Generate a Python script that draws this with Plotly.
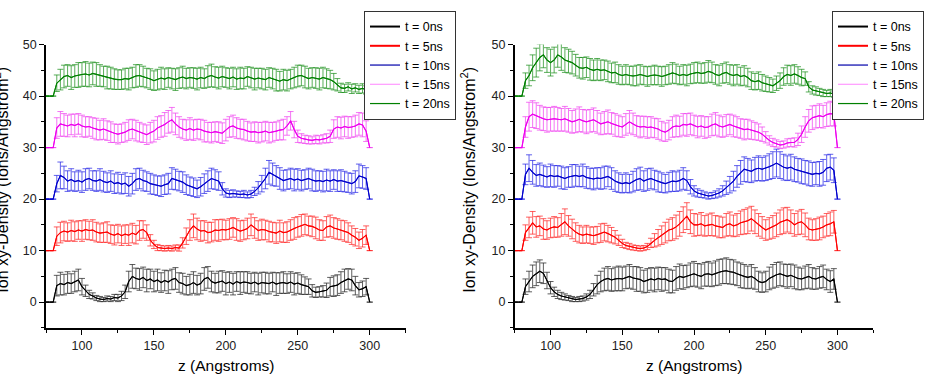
import plotly.graph_objects as go

# z positions (Angstroms): 75, then 80 .. 300 in 2.5 steps
z = [75.0] + [80 + 2.5 * i for i in range(89)]

series_names = ["t = 0ns", "t = 5ns", "t = 10ns", "t = 15ns", "t = 20ns"]
line_colors = ["#000000", "#ff0000", "#0000cc", "#ee00ee", "#008000"]
err_colors = ["rgba(40,40,40,0.75)", "rgba(255,30,30,0.7)", "rgba(30,30,230,0.7)",
              "rgba(240,60,240,0.7)", "rgba(20,140,20,0.7)"]
legend_line_widths = [2, 2, 1.2, 1.2, 1.2]
legend_line_colors = ["#000000", "#ff0000", "#0000aa", "#ff99ff", "#008000"]

# ---------------- Left panel ----------------
L0 = [0, 0, 3.2, 3.6, 3.4, 3.8, 3.6, 4.0, 4.3, 3.0,
      2.2, 1.5, 1.2, 0.8, 0.6, 0.5, 0.7, 0.6, 0.9, 0.8,
      1.2, 2.0, 4.0, 5.0, 4.6, 4.4, 4.8, 4.2, 4.5, 4.0,
      4.3, 3.8, 4.2, 3.9, 4.4, 4.6, 3.8, 3.6, 3.2, 3.4,
      3.8, 3.3, 3.6, 4.5, 4.8, 4.0, 3.7, 3.9, 4.1, 3.6,
      3.9, 3.5, 4.0, 3.7, 3.9, 3.8, 3.6, 3.9, 3.5, 3.8,
      3.7, 3.6, 3.9, 3.5, 3.7, 3.8, 3.6, 3.9, 3.5, 3.7,
      3.4, 3.2, 3.0, 2.2, 1.9, 2.0, 2.1, 2.3, 3.0, 3.1,
      3.3, 3.8, 4.2, 4.5, 4.3, 3.2, 2.4, 2.6, 3.0, 0]
L1 = [10, 10, 12.8, 13.5, 13.8, 13.6, 13.9, 13.7, 14.0, 13.8,
      14.1, 13.9, 14.0, 13.6, 13.4, 13.5, 13.6, 13.2, 13.0, 13.3,
      12.9, 13.2, 13.0, 13.4, 13.1, 13.9, 14.1, 13.5, 12.0, 11.2,
      10.6, 10.5, 10.4, 10.5, 10.4, 10.6, 10.5, 11.5, 12.8, 14.0,
      14.8, 14.2, 13.8, 13.9, 13.5, 13.6, 14.0, 13.9, 14.1, 14.0,
      14.2, 14.5, 14.1, 13.8, 14.0, 14.3, 15.0, 14.4, 13.9, 14.1,
      14.0, 13.7, 13.6, 13.4, 13.8, 13.5, 13.6, 14.0, 14.3, 14.6,
      14.9, 15.1, 14.8, 14.7, 14.4, 14.0, 13.9, 14.6, 14.8, 14.4,
      14.2, 14.0, 13.8, 13.5, 13.0, 12.6, 12.0, 12.4, 13.0, 10]
L2 = [20, 20, 23.0, 24.6, 24.2, 23.5, 23.8, 23.4, 23.6, 23.3,
      23.8, 24.0, 23.6, 23.5, 23.8, 23.4, 23.2, 23.5, 23.0, 23.2,
      22.9, 23.1, 22.5, 23.0, 23.8, 24.0, 23.6, 23.4, 23.0, 22.8,
      22.6, 22.5, 22.8, 23.0, 24.0, 23.8, 23.5, 23.3, 22.8, 22.5,
      22.3, 22.0, 22.4, 23.0, 23.5, 24.0, 23.8, 23.5, 22.0, 21.2,
      21.0, 21.1, 21.0, 20.9, 21.0, 20.8, 21.0, 21.5, 22.2, 23.0,
      24.0, 25.2, 24.8, 24.5, 24.0, 23.6, 23.8, 24.0, 23.7, 23.9,
      23.6, 23.8, 24.0, 23.7, 23.5, 23.6, 23.4, 23.7, 23.5, 23.8,
      23.5, 23.6, 23.4, 23.2, 23.0, 23.4, 24.5, 24.3, 24.0, 20]
L3 = [30, 30, 33.8, 34.6, 34.4, 34.2, 34.5, 34.3, 34.6, 34.2,
      34.0, 34.1, 33.8, 33.6, 33.4, 33.6, 33.3, 33.0, 32.8, 32.6,
      32.8, 33.0, 33.4, 33.6, 33.3, 33.0, 32.8, 32.5, 32.9, 33.2,
      33.8, 34.1, 34.5, 35.0, 35.4, 34.6, 34.0, 33.6, 33.4, 33.7,
      33.4, 33.6, 33.5, 33.2, 33.0, 32.9, 33.1, 33.0, 32.8, 33.4,
      34.0, 34.2, 33.8, 33.6, 33.5, 33.2, 33.0, 33.1, 32.9, 33.0,
      33.2, 32.9, 33.0, 33.2, 33.4, 33.5, 34.2, 35.2, 33.5, 32.2,
      31.8, 31.6, 31.5, 31.4, 31.6, 31.5, 31.7, 31.8, 32.2, 33.6,
      34.0, 33.8, 34.1, 33.9, 34.0, 34.2, 34.6, 34.4, 33.2, 30]
L4 = [40, 40, 42.5, 43.2, 43.8, 44.0, 43.6, 43.9, 44.1, 44.2,
      44.3, 44.1, 44.4, 44.2, 44.0, 43.8, 43.6, 43.5, 43.3, 43.2,
      43.2, 43.4, 43.3, 43.6, 43.9, 44.0, 43.8, 43.5, 43.3, 43.0,
      43.2, 43.5, 43.3, 43.6, 43.4, 43.2, 43.5, 43.7, 43.4, 43.6,
      43.5, 43.3, 43.6, 43.4, 43.8, 44.0, 43.7, 43.5, 43.8, 43.6,
      43.4, 43.7, 43.3, 43.5, 43.4, 43.8, 43.6, 43.3, 43.5, 43.4,
      43.2, 43.6, 43.4, 43.1, 42.9, 43.2, 43.0, 43.3, 43.6, 43.9,
      44.0, 43.7, 43.4, 43.6, 43.5, 43.3, 43.6, 43.4, 43.2, 42.8,
      42.2, 41.6, 41.5, 41.8, 41.4, 41.6, 41.3, 41.5, 41.2, 40.8]

EL0 = [0, 0, 2.0, 2.2, 2.0, 2.1, 1.9, 2.0, 2.1, 1.6,
       1.1, 0.8, 0.6, 0.5, 0.5, 0.4, 0.5, 0.5, 0.6, 0.7,
       0.9, 1.3, 2.0, 2.3, 2.0, 2.1, 2.0, 2.2, 1.9, 2.0,
       2.1, 1.9, 2.0, 2.2, 2.0, 2.1, 1.9, 2.0, 1.8, 2.0,
       2.1, 1.9, 2.0, 2.2, 2.1, 2.0, 1.9, 2.1, 2.0, 2.2,
       2.0, 2.1, 1.9, 2.2, 2.0, 2.1, 2.0, 1.9, 2.1, 2.0,
       2.1, 2.0, 1.9, 2.2, 2.0, 2.1, 1.9, 2.0, 2.1, 2.0,
       1.9, 1.7, 1.5, 1.2, 1.0, 1.0, 1.1, 1.4, 1.8, 2.0,
       2.0, 2.1, 2.2, 2.0, 2.1, 1.8, 1.4, 1.5, 1.6, 0]
EL1 = [0, 0, 1.8, 2.0, 1.9, 1.8, 2.0, 1.9, 1.8, 2.0,
       1.9, 1.8, 2.0, 1.9, 1.8, 1.9, 2.0, 1.8, 1.9, 1.8,
       1.9, 1.8, 2.0, 1.9, 1.8, 1.9, 1.7, 1.5, 1.1, 0.8,
       0.6, 0.5, 0.5, 0.5, 0.5, 0.5, 0.6, 1.0, 1.6, 2.0,
       2.3, 2.1, 2.0, 1.9, 2.0, 1.9, 2.0, 2.1, 2.0, 1.9,
       2.0, 1.9, 2.1, 2.0, 1.9, 2.0, 2.1, 2.0, 1.9, 2.0,
       1.9, 2.0, 1.9, 2.0, 2.1, 1.9, 2.0, 2.0, 2.1, 2.0,
       2.1, 2.0, 1.9, 2.0, 2.1, 2.0, 1.9, 2.0, 2.1, 2.0,
       2.0, 1.9, 2.0, 1.9, 1.8, 1.7, 1.6, 1.7, 1.8, 0]
EL2 = [0, 0, 1.6, 2.6, 2.2, 2.0, 2.1, 1.9, 2.0, 2.0,
       2.1, 2.0, 1.9, 2.0, 2.1, 2.0, 1.9, 2.0, 1.9, 2.0,
       1.9, 2.0, 1.9, 2.0, 2.1, 2.0, 2.0, 1.9, 2.0, 1.9,
       1.9, 2.0, 1.9, 2.0, 2.1, 2.0, 1.9, 2.0, 1.9, 1.8,
       1.8, 1.7, 1.8, 1.9, 2.0, 2.0, 1.9, 1.8, 1.2, 0.8,
       0.7, 0.7, 0.6, 0.6, 0.7, 0.6, 0.7, 0.8, 1.2, 1.6,
       2.0, 2.3, 2.2, 2.0, 2.1, 2.0, 1.9, 2.0, 2.1, 2.0,
       2.0, 1.9, 2.0, 2.1, 2.0, 1.9, 2.0, 2.1, 2.0, 1.9,
       2.0, 2.1, 2.0, 1.9, 2.0, 2.1, 2.3, 2.2, 2.1, 0]
EL3 = [0, 0, 2.0, 2.4, 2.2, 2.1, 2.0, 2.2, 2.0, 2.1,
       2.0, 1.9, 2.0, 2.1, 1.9, 2.0, 1.9, 2.0, 1.8, 1.9,
       1.8, 1.9, 2.0, 1.9, 2.0, 1.9, 1.8, 1.9, 2.0, 2.1,
       2.2, 2.1, 2.3, 2.2, 2.4, 2.1, 2.0, 1.9, 2.0, 2.1,
       2.0, 1.9, 2.0, 2.1, 1.9, 2.0, 1.9, 2.0, 2.0, 2.1,
       2.0, 2.1, 2.0, 1.9, 2.0, 1.9, 1.8, 1.9, 2.0, 1.9,
       1.9, 2.0, 1.9, 1.8, 1.9, 2.0, 1.8, 1.8, 1.6, 1.2,
       0.9, 0.8, 0.8, 0.7, 0.8, 0.8, 0.8, 0.9, 1.2, 1.8,
       2.0, 2.1, 2.0, 2.1, 2.0, 2.1, 2.2, 2.3, 2.0, 0]
EL4 = [0, 0, 1.6, 2.0, 2.2, 2.1, 2.3, 2.2, 2.4, 2.3,
       2.4, 2.3, 2.2, 2.3, 2.1, 2.0, 2.2, 2.1, 2.0, 1.9,
       1.9, 2.0, 2.1, 2.0, 2.2, 2.1, 2.0, 1.9, 2.0, 1.9,
       2.0, 2.1, 2.0, 1.9, 2.0, 2.1, 2.0, 2.1, 2.0, 1.9,
       2.0, 2.1, 2.0, 1.9, 2.1, 2.2, 2.0, 2.1, 2.0, 1.9,
       2.0, 1.9, 2.0, 2.1, 2.0, 1.9, 2.0, 2.1, 1.9, 2.0,
       2.0, 1.9, 2.0, 2.1, 1.9, 2.0, 2.0, 1.9, 2.0, 2.1,
       2.0, 2.1, 2.0, 1.9, 2.0, 2.1, 2.0, 1.9, 1.8, 1.6,
       1.2, 0.9, 0.8, 0.8, 0.9, 0.8, 0.8, 0.9, 0.8, 0]

# ---------------- Right panel ----------------
R0 = [0, 0, 3.0, 4.0, 5.0, 5.5, 6.0, 5.6, 4.2, 2.8,
      2.0, 1.5, 1.2, 1.0, 0.8, 0.6, 0.5, 0.6, 0.7, 1.0,
      1.5, 2.4, 3.4, 4.0, 4.4, 4.6, 4.3, 4.5, 4.6, 4.5,
      4.8, 5.0, 4.7, 4.5, 4.4, 4.0, 4.2, 4.5, 4.3, 4.6,
      4.4, 4.5, 4.1, 4.0, 4.6, 5.0, 4.8, 5.0, 5.3, 5.5,
      5.2, 5.0, 5.4, 5.5, 5.3, 5.6, 5.8, 6.0, 6.1, 5.9,
      5.8, 5.5, 5.2, 5.0, 4.8, 5.0, 4.6, 4.0, 3.8, 4.0,
      4.6, 5.0, 5.3, 5.5, 5.2, 5.0, 5.2, 4.9, 4.6, 4.5,
      4.8, 5.0, 4.6, 4.5, 4.8, 5.0, 4.4, 4.0, 4.5, 0]
R1 = [10, 10, 13.5, 14.5, 15.4, 14.6, 14.8, 14.2, 14.0, 14.4,
      14.6, 14.5, 15.0, 15.6, 14.8, 14.2, 13.6, 13.2, 13.0, 13.2,
      13.0, 12.9, 13.1, 13.4, 13.6, 13.3, 13.0, 12.6, 12.0, 11.4,
      11.0, 10.8, 10.6, 10.5, 10.4, 10.5, 10.8, 11.5, 12.0, 12.5,
      13.0, 13.5, 14.0, 14.2, 14.6, 15.2, 16.0, 16.7, 15.6, 15.0,
      15.0, 15.2, 14.8, 15.0, 15.1, 14.8, 14.6, 14.5, 15.0, 15.2,
      14.8, 15.0, 15.4, 15.6, 15.8, 16.2, 15.6, 15.0, 14.5, 14.0,
      14.3, 14.6, 15.0, 15.5, 15.8, 16.0, 15.6, 15.0, 15.4, 15.6,
      15.0, 14.2, 14.0, 14.1, 14.3, 14.6, 15.0, 15.2, 15.6, 10]
R2 = [20, 20, 24.8, 26.0, 25.2, 24.6, 24.8, 24.5, 24.3, 24.6,
      24.4, 24.5, 24.2, 24.0, 24.3, 24.5, 24.6, 24.4, 24.6, 24.2,
      24.0, 23.9, 24.1, 24.0, 24.2, 24.4, 24.0, 23.5, 23.2, 23.0,
      23.2, 23.0, 23.4, 23.8, 24.0, 23.5, 23.8, 24.0, 23.7, 23.4,
      23.2, 23.0, 23.3, 23.5, 23.4, 23.6, 24.0, 23.6, 22.4, 21.6,
      21.2, 21.0, 20.8, 20.6, 20.7, 20.9, 21.2, 21.6, 22.2, 22.8,
      23.5, 24.4, 25.2, 25.8, 25.6, 25.4, 25.8, 26.0, 25.8, 26.0,
      26.3, 26.6, 27.0, 26.6, 26.2, 26.0, 26.2, 25.8, 25.6, 25.4,
      25.2, 25.0, 24.8, 25.0, 24.9, 25.2, 26.0, 26.2, 25.6, 20]
R3 = [30, 30, 34.0, 36.0, 36.5, 36.2, 35.8, 35.6, 35.4, 35.5,
      35.6, 35.5, 35.4, 35.6, 35.3, 35.0, 35.2, 35.5, 35.2, 35.0,
      35.2, 35.4, 35.0, 34.6, 34.8, 35.0, 34.7, 34.4, 34.2, 34.0,
      34.5, 35.0, 34.6, 34.2, 34.0, 34.1, 33.9, 34.0, 33.8, 33.6,
      33.2, 33.0, 33.4, 34.0, 34.2, 34.1, 34.5, 34.4, 34.6, 34.3,
      34.0, 34.2, 33.9, 34.0, 34.4, 34.6, 34.2, 34.0, 34.3, 34.5,
      34.2, 34.0, 33.7, 33.5, 33.6, 33.4, 33.2, 33.0, 32.6, 32.0,
      31.4, 31.0, 30.8, 30.5, 30.6, 30.9, 31.0, 31.0, 31.6, 32.6,
      34.0, 35.2, 35.8, 36.0, 36.2, 36.0, 36.4, 36.6, 36.5, 30]
R4 = [40, 40, 43.0, 44.0, 45.5, 46.5, 47.5, 48.0, 47.0, 46.5,
      47.0, 48.0, 47.6, 47.0, 46.8, 46.5, 46.0, 45.5, 45.4, 45.6,
      45.2, 45.0, 45.2, 45.0, 45.1, 44.8, 44.5, 44.6, 44.2, 44.0,
      44.2, 44.0, 43.9, 44.0, 44.2, 44.0, 43.8, 44.0, 44.1, 44.0,
      43.8, 44.0, 44.2, 44.5, 44.3, 44.0, 44.2, 44.0, 44.3, 44.5,
      44.6, 44.4, 44.5, 44.8, 44.6, 44.2, 44.0, 44.4, 44.6, 44.2,
      44.0, 44.2, 43.8, 44.0, 43.6, 43.0, 42.8, 43.0, 42.6, 42.4,
      42.2, 42.0, 42.5, 43.0, 43.8, 44.2, 44.0, 44.3, 44.0, 43.6,
      43.4, 41.8, 41.2, 41.0, 40.8, 40.6, 40.5, 40.6, 40.4, 40]

ER0 = [0, 0, 1.5, 2.0, 2.2, 2.3, 2.2, 2.0, 1.6, 1.2,
       0.9, 0.8, 0.7, 0.6, 0.5, 0.5, 0.4, 0.5, 0.5, 0.6,
       0.8, 1.2, 1.8, 2.0, 2.2, 2.3, 2.2, 2.3, 2.4, 2.3,
       2.2, 2.3, 2.2, 2.4, 2.3, 2.2, 2.3, 2.2, 2.3, 2.2,
       2.3, 2.2, 2.3, 2.2, 2.3, 2.4, 2.3, 2.2, 2.3, 2.4,
       2.3, 2.4, 2.3, 2.4, 2.3, 2.4, 2.5, 2.4, 2.5, 2.4,
       2.4, 2.3, 2.4, 2.3, 2.2, 2.3, 2.1, 2.0, 1.9, 2.0,
       2.2, 2.3, 2.4, 2.3, 2.2, 2.3, 2.2, 2.3, 2.2, 2.1,
       2.2, 2.3, 2.1, 2.0, 2.1, 2.2, 2.0, 2.1, 2.0, 0]
ER1 = [0, 0, 1.5, 2.0, 2.2, 2.0, 1.9, 2.0, 1.8, 1.9,
       2.0, 1.9, 2.2, 2.5, 2.0, 1.9, 1.8, 1.7, 1.6, 1.7,
       1.6, 1.7, 1.6, 1.8, 1.7, 1.6, 1.5, 1.3, 1.0, 0.8,
       0.6, 0.6, 0.5, 0.5, 0.5, 0.5, 0.6, 0.9, 1.3, 1.6,
       1.8, 2.0, 2.1, 2.2, 2.3, 2.4, 2.5, 2.6, 2.3, 2.2,
       2.1, 2.2, 2.0, 2.1, 2.2, 2.0, 2.1, 2.0, 2.2, 2.3,
       2.1, 2.2, 2.3, 2.4, 2.5, 2.4, 2.3, 2.2, 2.1, 2.0,
       2.1, 2.2, 2.3, 2.4, 2.5, 2.4, 2.3, 2.2, 2.3, 2.4,
       2.3, 2.1, 2.0, 2.1, 2.2, 2.1, 2.2, 2.3, 2.2, 0]
ER2 = [0, 0, 2.0, 2.6, 2.3, 2.1, 2.2, 2.1, 2.0, 2.2,
       2.1, 2.0, 2.2, 2.1, 2.0, 2.2, 2.1, 2.0, 2.2, 2.1,
       2.0, 2.1, 2.0, 2.1, 2.2, 2.0, 2.1, 2.0, 1.9, 1.8,
       1.9, 1.8, 2.0, 2.1, 2.2, 2.0, 2.1, 2.0, 1.9, 2.0,
       1.9, 1.8, 1.9, 2.0, 1.9, 2.0, 2.1, 1.9, 1.4, 1.0,
       0.8, 0.7, 0.6, 0.6, 0.6, 0.7, 0.8, 1.0, 1.3, 1.6,
       1.9, 2.1, 2.3, 2.4, 2.3, 2.2, 2.3, 2.4, 2.3, 2.4,
       2.5, 2.6, 2.7, 2.6, 2.5, 2.4, 2.5, 2.4, 2.3, 2.4,
       2.3, 2.4, 2.3, 2.2, 2.4, 2.5, 2.6, 2.5, 2.4, 0]
ER3 = [0, 0, 2.0, 2.8, 2.6, 2.5, 2.4, 2.3, 2.4, 2.3,
       2.4, 2.3, 2.2, 2.4, 2.3, 2.2, 2.3, 2.4, 2.2, 2.3,
       2.2, 2.3, 2.2, 2.1, 2.2, 2.3, 2.1, 2.2, 2.1, 2.0,
       2.1, 2.2, 2.1, 2.0, 2.1, 2.0, 2.1, 2.0, 1.9, 2.0,
       1.9, 1.8, 1.9, 2.0, 2.1, 2.0, 2.1, 2.2, 2.1, 2.0,
       2.1, 2.0, 2.1, 2.0, 2.1, 2.2, 2.1, 2.0, 2.1, 2.0,
       2.1, 2.0, 1.9, 2.0, 1.9, 1.8, 1.7, 1.6, 1.4, 1.1,
       0.9, 0.8, 0.7, 0.7, 0.7, 0.8, 0.8, 0.9, 1.2, 1.6,
       2.0, 2.2, 2.3, 2.2, 2.3, 2.2, 2.3, 2.4, 2.3, 0]
ER4 = [0, 0, 1.5, 2.0, 2.5, 2.8, 2.6, 2.5, 2.4, 2.6,
       2.5, 2.4, 2.6, 2.4, 2.3, 2.2, 2.1, 2.0, 2.1, 2.0,
       2.1, 2.0, 2.1, 2.0, 1.9, 2.0, 1.9, 2.0, 1.9, 1.8,
       1.9, 1.8, 1.9, 2.0, 1.9, 1.8, 1.9, 1.8, 1.9, 1.8,
       1.9, 1.8, 1.9, 2.0, 1.9, 1.8, 1.9, 2.0, 1.9, 2.0,
       2.0, 1.9, 2.0, 2.1, 2.0, 1.9, 2.0, 1.9, 2.0, 1.9,
       2.0, 1.9, 1.8, 1.9, 1.8, 1.7, 1.6, 1.7, 1.6, 1.5,
       1.4, 1.3, 1.4, 1.5, 1.7, 1.8, 1.9, 1.8, 1.7, 1.6,
       1.3, 1.0, 0.8, 0.8, 0.7, 0.7, 0.6, 0.7, 0.6, 0]

x_ticks = [100, 150, 200, 250, 300]
y_ticks = [0, 10, 20, 30, 40, 50]

left_vals = [L0, L1, L2, L3, L4]
left_errs = [EL0, EL1, EL2, EL3, EL4]
right_vals = [R0, R1, R2, R3, R4]
right_errs = [ER0, ER1, ER2, ER3, ER4]

for arr in left_vals + left_errs + right_vals + right_errs:
    assert len(arr) == len(z), len(arr)

fig = go.Figure()

panels = [("x", "y", "legend", left_vals, left_errs),
          ("x2", "y2", "legend2", right_vals, right_errs)]
for xa, ya, lg, vals, errs in panels:
    for i in range(5):
        # error bars (no legend entry)
        fig.add_trace(go.Scatter(
            x=z, y=vals[i], mode="lines", name=series_names[i],
            xaxis=xa, yaxis=ya, showlegend=False, hoverinfo="skip",
            line=dict(color=line_colors[i], width=1),
            error_y=dict(type="data", array=errs[i], visible=True,
                         color=err_colors[i], thickness=1, width=3),
        ))
    for i in range(5):
        # mean line on top
        fig.add_trace(go.Scatter(
            x=z, y=vals[i], mode="lines", name=series_names[i],
            xaxis=xa, yaxis=ya, legend=lg, showlegend=False,
            line=dict(color=line_colors[i], width=1.1),
        ))
    for i in range(5):
        # legend key (styled as in the reference key box)
        fig.add_trace(go.Scatter(
            x=[None], y=[None], mode="lines", name=series_names[i],
            xaxis=xa, yaxis=ya, legend=lg, showlegend=True,
            line=dict(color=legend_line_colors[i], width=legend_line_widths[i]),
        ))

FONT = "Liberation Sans, Arial, sans-serif"

axis_common = dict(
    showline=True, linecolor="black", linewidth=1.5, showgrid=False, zeroline=False,
    ticks="outside", ticklen=5, tickwidth=1, tickcolor="black",
    tickfont=dict(family=FONT, size=12.5, color="#222"),
    mirror=False,
)

xdom1 = [46 / 932, 405.7 / 932]
xdom2 = [514.7 / 932, 873.3 / 932]
ydom = [(374 - 327) / 374, (374 - 38.3) / 374]

for key, dom, anchor in [("xaxis", xdom1, "y"), ("xaxis2", xdom2, "y2")]:
    fig.layout[key] = dict(axis_common, domain=dom, anchor=anchor, range=[75, 325],
                           tickmode="array", tickvals=x_ticks,
                           minor=dict(ticks="outside", dtick=25, tick0=0, ticklen=3,
                                      tickcolor="black", tickwidth=1))
for key, anchor in [("yaxis", "x"), ("yaxis2", "x2")]:
    fig.layout[key] = dict(axis_common, domain=ydom, anchor=anchor, range=[-5, 50],
                           tickmode="array", tickvals=y_ticks,
                           minor=dict(ticks="outside", dtick=5, tick0=0, ticklen=3,
                                      tickcolor="black", tickwidth=1))

legend_common = dict(
    bgcolor="white", bordercolor="#333", borderwidth=1,
    font=dict(family=FONT, size=12.5, color="black"),
    xanchor="left", yanchor="top", y=1 - 4 / 374,
    itemwidth=30, tracegroupgap=0,
)
fig.update_layout(
    legend=dict(legend_common, x=364 / 932),
    legend2=dict(legend_common, x=832 / 932),
)

ylabel = "Ion xy-Density (Ions/Angstrom<sup>2</sup>)"
ann = []
for cx, xd in [(1.0 / 932, xdom1), (468 / 932, xdom2)]:
    ann.append(dict(text=ylabel, xref="paper", yref="paper", x=cx, y=1 - 176 / 374,
                    xanchor="center", yanchor="middle", textangle=-90, showarrow=False,
                    font=dict(family=FONT, size=16, color="black")))
    ann.append(dict(text="z (Angstroms)", xref="paper", yref="paper",
                    x=(xd[0] + xd[1]) / 2, y=1 - 365 / 374,
                    xanchor="center", yanchor="middle", showarrow=False,
                    font=dict(family=FONT, size=15.5, color="black")))

fig.update_layout(
    width=932, height=374,
    margin=dict(l=0, r=0, t=0, b=0),
    paper_bgcolor="white", plot_bgcolor="white",
    showlegend=True,
    annotations=ann,
)

fig.write_html("out.html")
